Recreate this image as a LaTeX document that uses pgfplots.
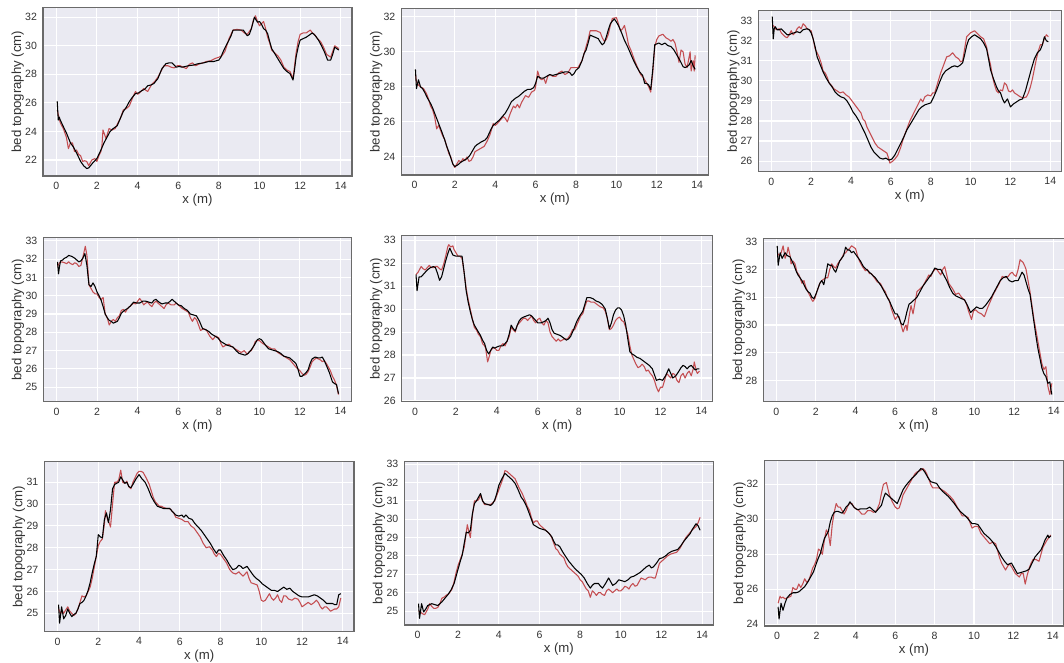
\documentclass[border=0pt]{standalone}
\usepackage{pgfplots}
\pgfplotsset{compat=1.18}
\usepackage{fontspec}
\setmainfont{Liberation Sans}
\definecolor{bgc}{HTML}{EAEAF2}
\definecolor{redc}{HTML}{C44E52}
\definecolor{framec}{HTML}{6A6A6A}
\definecolor{txtc}{HTML}{333333}
\pgfplotsset{
  sb/.style={
    scale only axis,
    axis background/.style={fill=bgc},
    grid=major,
    major grid style={draw=white, line width=0.8pt},
    axis line style={draw=framec, line width=1.1pt},
    major tick length=0pt,
    tick style={draw=none},
    xmin=-0.65, xmax=14.55,
    xtick={0,2,4,6,8,10,12,14},
    /pgf/number format/assume math mode=true,
    ticklabel style={font=\fontsize{7.9}{9}\selectfont, text=txtc},
    xticklabel style={yshift=-1pt},
    yticklabel style={xshift=-1pt},
    xlabel={x (m)},
    ylabel={bed topography (cm)},
    label style={font=\fontsize{9.9}{11}\selectfont, text=txtc},
    xlabel style={at={(axis description cs:0.5,0)}, anchor=north, inner sep=0pt, yshift=-13.5pt},
    ylabel style={at={(axis description cs:-0.082,0.5)}, anchor=center},
    anchor=south west,
  },
  rl/.style={draw=redc, line width=0.8pt, line join=round, mark=none},
  bl/.style={draw=black, line width=0.8pt, line join=round, mark=none},
}
\begin{document}
\begin{tikzpicture}
% ---------- Row 1 ----------
\begin{axis}[sb, at={(43*0.75pt,486*0.75pt)}, width=309*0.75pt, height=168.5*0.75pt,
  ymin=20.88, ymax=32.68, ytick={22,24,26,28,30,32}]
\addplot[rl] coordinates {(0.05,25.5)(0.2,24.6)(0.35,24.2)(0.5,23.6)(0.6,22.8)(0.7,23.2)(0.8,23.2)(0.9,22.6)(1.0,22.7)(1.1,22.4)(1.2,22.3)(1.3,21.9)(1.4,21.95)(1.5,21.9)(1.6,21.6)(1.75,22.0)(1.9,22.1)(2.0,21.9)(2.1,22.3)(2.2,22.6)(2.25,23.0)(2.3,24.1)(2.45,23.5)(2.6,24.2)(2.75,24.1)(2.9,24.2)(3.0,24.5)(3.15,24.9)(3.3,25.5)(3.45,25.6)(3.6,25.8)(3.8,26.5)(3.9,26.8)(4.0,26.6)(4.1,26.7)(4.3,27.0)(4.5,26.8)(4.7,27.3)(4.85,27.5)(5.0,27.8)(5.15,28.2)(5.3,28.6)(5.5,28.6)(5.65,28.5)(5.8,28.45)(5.95,28.6)(6.1,28.6)(6.25,28.5)(6.4,28.4)(6.55,28.7)(6.7,28.8)(6.85,28.6)(7.0,28.7)(7.2,28.8)(7.4,28.9)(7.6,28.95)(7.8,29.1)(8.0,29.2)(8.15,29.3)(8.3,29.6)(8.5,30.5)(8.7,31.1)(8.9,31.15)(9.1,31.1)(9.25,30.9)(9.4,30.8)(9.6,31.2)(9.7,31.8)(9.8,32.1)(9.9,31.7)(10.0,31.4)(10.2,31.7)(10.3,31.2)(10.4,30.6)(10.5,30.2)(10.6,29.7)(10.75,29.5)(10.9,29.3)(11.05,29.0)(11.2,28.5)(11.35,28.3)(11.5,28.2)(11.65,27.7)(11.8,29.5)(11.9,30.3)(12.0,30.8)(12.15,30.9)(12.3,30.9)(12.4,31.0)(12.5,31.1)(12.6,30.9)(12.7,30.8)(12.85,30.5)(13.0,30.3)(13.15,29.9)(13.3,29.4)(13.4,29.3)(13.5,29.2)(13.6,29.6)(13.7,30.0)(13.8,29.9)(13.9,29.8)};
\addplot[bl] coordinates {(0.05,26.1)(0.1,24.8)(0.15,25.0)(0.2,24.8)(0.33,24.4)(0.5,23.9)(0.7,23.2)(0.85,22.9)(1.0,22.5)(1.2,21.9)(1.35,21.6)(1.5,21.4)(1.6,21.45)(1.8,21.8)(2.0,22.1)(2.2,22.7)(2.35,23.2)(2.5,23.6)(2.65,24.0)(2.8,24.2)(3.0,24.4)(3.15,24.9)(3.3,25.4)(3.45,25.7)(3.6,26.1)(3.75,26.4)(3.9,26.65)(4.05,26.7)(4.2,26.85)(4.35,26.95)(4.5,27.2)(4.65,27.25)(4.8,27.35)(5.0,27.7)(5.2,28.4)(5.4,28.75)(5.55,28.8)(5.7,28.8)(5.9,28.5)(6.05,28.55)(6.2,28.5)(6.35,28.55)(6.5,28.6)(6.75,28.65)(7.0,28.75)(7.25,28.8)(7.5,28.9)(7.75,28.9)(8.0,29.0)(8.1,29.2)(8.2,29.55)(8.35,30.0)(8.5,30.4)(8.6,30.7)(8.7,31.1)(9.0,31.1)(9.2,31.1)(9.3,30.9)(9.4,30.7)(9.5,30.8)(9.6,31.2)(9.75,32.0)(9.9,31.65)(10.0,31.7)(10.1,31.5)(10.2,31.2)(10.3,31.1)(10.4,30.85)(10.5,30.3)(10.6,29.8)(10.75,29.45)(10.9,29.1)(11.05,28.75)(11.2,28.4)(11.35,28.2)(11.5,28.05)(11.65,27.6)(11.72,28.3)(11.8,29.2)(11.9,29.9)(12.0,30.4)(12.15,30.5)(12.3,30.6)(12.45,30.75)(12.6,30.9)(12.75,30.7)(12.9,30.4)(13.05,30.0)(13.2,29.55)(13.35,29.0)(13.5,29.0)(13.6,29.4)(13.7,29.9)(13.8,29.8)(13.9,29.7)};
\end{axis}

\begin{axis}[sb, at={(401.3*0.75pt,487*0.75pt)}, width=307*0.75pt, height=166.7*0.75pt,
  ymin=22.97, ymax=32.48, ytick={24,26,28,30,32}]
\addplot[rl] coordinates {(0.05,28.7)(0.1,28.3)(0.2,28.1)(0.3,28.0)(0.45,27.9)(0.6,27.6)(0.7,27.3)(0.8,26.9)(0.9,26.7)(1.0,26.3)(1.1,25.6)(1.2,25.8)(1.3,25.5)(1.4,25.2)(1.5,25.0)(1.6,24.6)(1.7,24.2)(1.8,24.0)(1.9,23.6)(2.0,23.4)(2.1,23.6)(2.2,23.8)(2.3,23.7)(2.4,23.9)(2.5,23.8)(2.6,24.0)(2.7,23.75)(2.8,23.8)(2.9,24.0)(3.0,24.3)(3.15,24.4)(3.3,24.5)(3.45,24.6)(3.6,24.9)(3.75,25.3)(3.9,25.9)(4.0,25.8)(4.1,25.9)(4.25,26.1)(4.4,26.3)(4.5,26.2)(4.6,26.0)(4.75,26.5)(4.9,26.9)(5.0,26.8)(5.1,27.0)(5.2,26.8)(5.3,27.1)(5.4,27.3)(5.5,27.5)(5.65,27.4)(5.8,27.7)(5.95,27.8)(6.0,28.0)(6.1,28.9)(6.2,28.5)(6.3,28.4)(6.4,28.5)(6.5,28.2)(6.6,28.6)(6.7,28.7)(6.85,28.6)(7.0,28.6)(7.15,28.8)(7.3,28.9)(7.45,28.7)(7.6,28.8)(7.75,29.1)(7.9,29.1)(8.1,29.1)(8.2,29.3)(8.3,29.5)(8.4,29.9)(8.5,30.3)(8.6,30.7)(8.7,31.2)(8.85,31.2)(9.0,31.2)(9.2,31.1)(9.3,30.8)(9.4,30.6)(9.5,30.7)(9.6,31.0)(9.7,31.5)(9.8,31.9)(10.0,31.95)(10.1,31.6)(10.2,31.2)(10.3,31.3)(10.4,31.5)(10.5,31.0)(10.6,30.4)(10.75,30.0)(10.9,29.5)(11.05,29.1)(11.2,28.7)(11.35,28.5)(11.5,28.2)(11.6,28.0)(11.7,27.7)(11.8,28.8)(11.9,30.3)(12.0,30.7)(12.1,30.9)(12.3,31.0)(12.45,30.8)(12.6,30.7)(12.7,30.6)(12.8,30.7)(12.9,30.5)(13.0,30.0)(13.1,29.4)(13.2,30.1)(13.3,30.0)(13.4,29.3)(13.5,29.1)(13.6,29.7)(13.65,30.0)(13.7,28.9)(13.8,29.5)(13.85,28.9)(13.9,29.8)};
\addplot[bl] coordinates {(0.05,29.0)(0.1,27.9)(0.2,28.4)(0.3,28.0)(0.4,27.9)(0.5,27.7)(0.65,27.35)(0.8,27.05)(0.9,26.8)(1.0,26.5)(1.1,26.2)(1.2,25.9)(1.35,25.45)(1.5,24.97)(1.6,24.6)(1.7,24.3)(1.8,23.95)(1.9,23.6)(2.0,23.45)(2.15,23.55)(2.3,23.7)(2.45,23.8)(2.6,23.9)(2.75,24.1)(2.9,24.4)(3.0,24.6)(3.1,24.7)(3.3,24.85)(3.5,24.97)(3.6,25.1)(3.7,25.35)(3.8,25.6)(3.9,25.8)(4.05,25.95)(4.2,26.1)(4.35,26.3)(4.5,26.5)(4.65,26.8)(4.8,27.15)(5.0,27.35)(5.15,27.45)(5.3,27.6)(5.45,27.75)(5.6,27.85)(5.75,27.85)(5.9,27.95)(6.0,28.2)(6.1,28.6)(6.25,28.5)(6.4,28.5)(6.55,28.6)(6.7,28.7)(6.85,28.65)(7.0,28.7)(7.15,28.75)(7.3,28.8)(7.45,28.85)(7.6,28.85)(7.7,28.8)(7.8,28.65)(7.9,28.75)(8.0,28.95)(8.15,29.1)(8.3,29.5)(8.4,29.9)(8.5,30.1)(8.6,30.5)(8.7,30.95)(8.8,30.9)(8.9,30.85)(9.0,30.8)(9.1,30.75)(9.2,30.55)(9.3,30.4)(9.4,30.5)(9.5,30.85)(9.6,31.25)(9.7,31.6)(9.8,31.75)(9.9,31.87)(10.0,31.7)(10.1,31.5)(10.25,31.1)(10.4,30.65)(10.55,30.3)(10.7,29.9)(10.85,29.5)(11.0,29.15)(11.15,28.85)(11.3,28.65)(11.4,28.2)(11.5,28.2)(11.6,28.1)(11.7,27.85)(11.8,29.0)(11.9,30.4)(12.0,30.45)(12.1,30.5)(12.25,30.4)(12.4,30.5)(12.55,30.35)(12.7,30.3)(12.85,30.1)(13.0,29.8)(13.15,29.5)(13.3,29.15)(13.4,29.1)(13.5,29.15)(13.6,29.25)(13.7,29.5)(13.8,29.2)(13.9,29.0)};
\end{axis}

\begin{axis}[sb, at={(758.3*0.75pt,490.3*0.75pt)}, width=303*0.75pt, height=161*0.75pt,
  ymin=25.47, ymax=33.5, ytick={26,27,28,29,30,31,32,33}]
\addplot[rl] coordinates {(0.05,32.8)(0.15,32.7)(0.25,32.55)(0.4,32.6)(0.5,32.4)(0.6,32.3)(0.7,32.2)(0.8,32.15)(0.9,32.3)(1.0,32.5)(1.1,32.3)(1.2,32.4)(1.3,32.6)(1.4,32.7)(1.5,32.6)(1.6,32.85)(1.7,32.75)(1.8,32.6)(1.9,32.55)(2.0,32.5)(2.1,32.1)(2.2,31.6)(2.3,31.4)(2.4,31.2)(2.5,30.9)(2.6,30.5)(2.7,30.4)(2.8,30.2)(2.9,29.9)(3.0,29.8)(3.15,29.6)(3.3,29.5)(3.45,29.4)(3.6,29.45)(3.75,29.3)(3.9,29.2)(4.05,29.0)(4.2,28.8)(4.35,28.6)(4.5,28.4)(4.6,28.1)(4.7,28.0)(4.8,27.7)(4.9,27.5)(5.05,27.2)(5.2,26.9)(5.35,26.7)(5.5,26.6)(5.65,26.5)(5.8,26.4)(5.9,26.1)(5.95,25.9)(6.1,26.0)(6.2,26.1)(6.35,26.3)(6.5,26.7)(6.65,27.2)(6.8,27.6)(6.95,28.0)(7.1,28.3)(7.25,28.6)(7.4,28.9)(7.5,29.1)(7.6,28.95)(7.7,29.2)(7.85,29.3)(8.0,29.25)(8.1,29.4)(8.2,29.4)(8.35,29.9)(8.5,30.4)(8.65,30.8)(8.8,31.2)(8.95,31.25)(9.1,31.4)(9.25,31.2)(9.4,31.1)(9.5,30.95)(9.6,31.0)(9.7,31.6)(9.8,32.2)(9.9,32.3)(10.0,32.4)(10.2,32.5)(10.35,32.35)(10.5,32.2)(10.65,32.1)(10.8,31.7)(10.9,31.2)(11.0,30.8)(11.1,30.2)(11.2,29.8)(11.3,29.5)(11.4,29.4)(11.5,29.55)(11.6,29.5)(11.7,29.9)(11.8,29.8)(11.9,29.5)(12.0,29.45)(12.1,29.55)(12.2,29.4)(12.35,29.3)(12.5,29.2)(12.65,29.15)(12.8,29.2)(12.9,29.4)(13.0,29.7)(13.1,30.1)(13.2,30.6)(13.3,31.1)(13.4,31.5)(13.5,31.8)(13.6,31.8)(13.7,32.1)(13.8,32.3)(13.9,32.2)};
\addplot[bl] coordinates {(0.05,33.2)(0.1,32.1)(0.15,32.6)(0.2,32.7)(0.3,32.55)(0.4,32.55)(0.5,32.6)(0.6,32.5)(0.7,32.4)(0.8,32.3)(0.9,32.3)(1.0,32.35)(1.15,32.4)(1.3,32.45)(1.45,32.4)(1.6,32.55)(1.8,32.6)(1.9,32.55)(2.0,32.4)(2.1,32.1)(2.2,31.7)(2.3,31.2)(2.4,30.95)(2.5,30.7)(2.6,30.45)(2.75,30.15)(2.9,29.9)(3.05,29.7)(3.2,29.45)(3.35,29.3)(3.5,29.2)(3.65,29.15)(3.8,29.0)(3.95,28.75)(4.1,28.45)(4.25,28.25)(4.4,28.0)(4.55,27.7)(4.7,27.4)(4.85,27.05)(5.0,26.7)(5.15,26.45)(5.3,26.3)(5.45,26.15)(5.6,26.1)(5.75,26.15)(5.9,26.05)(6.05,26.1)(6.2,26.3)(6.35,26.6)(6.5,26.9)(6.65,27.2)(6.8,27.55)(6.95,27.8)(7.1,28.05)(7.25,28.3)(7.4,28.55)(7.55,28.7)(7.7,28.8)(7.85,28.85)(8.0,28.9)(8.15,29.2)(8.3,29.55)(8.45,29.95)(8.6,30.3)(8.75,30.5)(8.9,30.6)(9.05,30.7)(9.2,30.75)(9.35,30.7)(9.5,30.8)(9.6,30.9)(9.7,31.3)(9.8,31.75)(9.9,32.05)(10.05,32.2)(10.2,32.3)(10.35,32.2)(10.5,32.1)(10.65,31.9)(10.8,31.6)(10.9,31.1)(11.0,30.55)(11.15,30.1)(11.3,29.7)(11.4,29.5)(11.5,29.4)(11.6,29.1)(11.7,28.9)(11.85,29.1)(12.0,28.7)(12.15,28.85)(12.3,28.95)(12.45,29.05)(12.6,29.1)(12.75,29.5)(12.9,30.05)(13.05,30.6)(13.2,31.1)(13.35,31.4)(13.5,31.55)(13.6,31.8)(13.7,32.2)(13.8,32.0)(13.9,31.95)};
\end{axis}

% ---------- Row 2 ----------
\begin{axis}[sb, at={(43.3*0.75pt,260.3*0.75pt)}, width=308.4*0.75pt, height=164.4*0.75pt,
  ymin=24.21, ymax=33.19, ytick={25,26,27,28,29,30,31,32,33}]
\addplot[rl] coordinates {(0.05,31.6)(0.15,31.8)(0.25,31.85)(0.4,31.8)(0.5,31.75)(0.6,31.85)(0.7,31.75)(0.8,31.7)(0.9,31.8)(1.0,31.75)(1.1,31.6)(1.2,31.65)(1.3,32.1)(1.42,32.7)(1.5,32.2)(1.55,31.4)(1.6,30.6)(1.7,30.4)(1.8,30.2)(1.9,30.1)(2.0,30.1)(2.1,29.9)(2.2,29.8)(2.3,29.9)(2.4,29.0)(2.5,28.8)(2.6,28.4)(2.7,28.6)(2.8,28.7)(2.9,28.6)(3.0,28.8)(3.1,28.9)(3.2,29.2)(3.3,29.25)(3.4,29.1)(3.5,29.3)(3.6,29.4)(3.7,29.5)(3.8,29.6)(3.9,29.55)(4.0,29.7)(4.1,29.85)(4.2,29.7)(4.3,29.5)(4.4,29.6)(4.5,29.65)(4.6,29.5)(4.7,29.4)(4.8,29.6)(4.9,29.7)(5.0,29.6)(5.1,29.5)(5.2,29.4)(5.3,29.3)(5.4,29.5)(5.5,29.6)(5.65,29.5)(5.8,29.5)(5.9,29.6)(6.0,29.5)(6.1,29.4)(6.2,29.3)(6.35,29.2)(6.5,29.1)(6.6,28.8)(6.7,28.6)(6.8,28.8)(6.9,28.7)(7.0,28.4)(7.1,28.1)(7.25,28.2)(7.4,28.1)(7.55,27.8)(7.7,27.6)(7.85,27.8)(8.0,27.7)(8.1,27.4)(8.2,27.2)(8.35,27.3)(8.5,27.35)(8.65,27.2)(8.8,27.1)(8.95,27.0)(9.1,26.9)(9.25,27.0)(9.4,26.8)(9.5,26.95)(9.6,27.0)(9.7,27.2)(9.8,27.5)(9.9,27.55)(10.0,27.55)(10.15,27.4)(10.3,27.3)(10.45,27.2)(10.6,27.1)(10.75,27.1)(10.9,26.9)(11.05,26.8)(11.2,26.7)(11.35,26.6)(11.5,26.5)(11.65,26.3)(11.8,26.1)(11.9,26.0)(12.0,25.9)(12.1,25.75)(12.2,25.65)(12.3,25.7)(12.4,25.85)(12.5,26.1)(12.6,26.4)(12.7,26.5)(12.8,26.6)(12.9,26.55)(13.0,26.5)(13.1,26.4)(13.2,26.45)(13.3,26.3)(13.4,26.1)(13.5,25.9)(13.6,25.6)(13.7,25.4)(13.8,25.1)(13.9,24.6)};
\addplot[bl] coordinates {(0.05,31.85)(0.1,31.2)(0.15,31.6)(0.2,31.9)(0.3,31.95)(0.4,32.05)(0.5,32.1)(0.6,32.2)(0.75,32.15)(0.9,32.05)(1.0,31.95)(1.1,31.85)(1.2,31.9)(1.3,32.05)(1.4,32.3)(1.5,31.65)(1.6,30.6)(1.7,30.5)(1.8,30.7)(1.9,30.5)(2.0,30.2)(2.1,30.0)(2.2,29.75)(2.3,29.4)(2.4,29.0)(2.5,28.8)(2.6,28.65)(2.7,28.6)(2.8,28.5)(2.9,28.55)(3.0,28.6)(3.1,28.8)(3.2,29.05)(3.35,29.2)(3.5,29.3)(3.65,29.45)(3.8,29.65)(3.95,29.6)(4.1,29.6)(4.25,29.7)(4.4,29.7)(4.55,29.65)(4.7,29.6)(4.8,29.75)(4.9,29.8)(5.05,29.65)(5.2,29.55)(5.35,29.6)(5.5,29.6)(5.6,29.7)(5.7,29.8)(5.85,29.65)(6.0,29.5)(6.15,29.45)(6.3,29.3)(6.45,29.2)(6.6,29.0)(6.75,28.95)(6.9,28.9)(7.05,28.6)(7.2,28.2)(7.35,28.15)(7.5,28.05)(7.65,27.9)(7.8,27.8)(7.95,27.7)(8.1,27.5)(8.25,27.4)(8.4,27.3)(8.55,27.25)(8.7,27.2)(8.85,27.0)(9.0,26.85)(9.15,26.8)(9.3,26.75)(9.45,26.85)(9.6,27.05)(9.75,27.3)(9.9,27.6)(10.0,27.65)(10.1,27.6)(10.2,27.45)(10.3,27.3)(10.45,27.1)(10.6,27.05)(10.75,27.0)(10.9,26.95)(11.05,26.85)(11.2,26.7)(11.35,26.65)(11.5,26.6)(11.65,26.45)(11.8,26.3)(11.9,26.0)(12.0,25.6)(12.1,25.6)(12.2,25.7)(12.3,25.8)(12.4,25.95)(12.5,26.3)(12.6,26.55)(12.75,26.65)(12.9,26.6)(13.0,26.6)(13.1,26.65)(13.2,26.45)(13.3,26.2)(13.45,25.8)(13.6,25.3)(13.7,25.2)(13.8,25.15)(13.85,24.9)(13.9,24.65)};
\end{axis}

\begin{axis}[sb, at={(401.7*0.75pt,260.3*0.75pt)}, width=311*0.75pt, height=166*0.75pt,
  ymin=25.97, ymax=33.19, ytick={26,27,28,29,30,31,32,33}]
\addplot[rl] coordinates {(0.05,31.5)(0.15,31.6)(0.3,31.85)(0.4,31.75)(0.5,31.7)(0.6,31.8)(0.7,31.9)(0.8,31.8)(0.9,31.8)(1.0,31.85)(1.1,31.85)(1.2,31.75)(1.3,31.7)(1.4,31.95)(1.5,32.3)(1.6,32.7)(1.65,32.8)(1.75,32.7)(1.85,32.75)(1.9,32.6)(2.0,32.45)(2.1,32.3)(2.2,32.3)(2.3,32.2)(2.4,31.6)(2.5,30.9)(2.6,30.4)(2.7,30.0)(2.8,29.6)(2.9,29.2)(3.0,29.1)(3.1,28.9)(3.2,28.8)(3.3,28.5)(3.4,28.4)(3.45,28.3)(3.55,27.7)(3.65,28.0)(3.7,28.2)(3.8,28.3)(3.9,28.3)(4.0,28.2)(4.1,28.2)(4.2,28.4)(4.3,28.5)(4.4,28.4)(4.5,28.6)(4.6,28.8)(4.7,29.2)(4.8,29.1)(4.9,29.0)(5.0,29.3)(5.1,29.4)(5.2,29.5)(5.3,29.6)(5.4,29.6)(5.5,29.5)(5.6,29.6)(5.7,29.7)(5.8,29.5)(5.9,29.4)(6.0,29.55)(6.1,29.6)(6.2,29.4)(6.3,29.3)(6.4,29.5)(6.5,29.4)(6.6,29.0)(6.7,28.8)(6.8,28.7)(6.9,28.6)(7.0,28.7)(7.1,28.6)(7.2,28.65)(7.3,28.7)(7.45,28.7)(7.6,28.9)(7.7,29.1)(7.8,29.1)(7.9,29.3)(8.0,29.5)(8.1,29.7)(8.2,29.8)(8.3,30.1)(8.4,30.35)(8.5,30.35)(8.6,30.3)(8.75,30.3)(8.9,30.2)(9.05,30.1)(9.2,30.05)(9.3,29.9)(9.4,29.6)(9.5,29.1)(9.6,29.15)(9.7,29.3)(9.8,29.5)(9.9,29.6)(10.0,29.65)(10.1,29.5)(10.2,29.45)(10.3,29.2)(10.4,28.9)(10.5,28.4)(10.6,28.0)(10.7,27.8)(10.8,27.6)(10.9,27.45)(11.0,27.5)(11.1,27.6)(11.2,27.5)(11.3,27.3)(11.4,27.35)(11.5,27.2)(11.6,27.1)(11.7,26.9)(11.8,26.6)(11.9,26.4)(12.0,26.6)(12.1,26.6)(12.2,26.9)(12.3,27.2)(12.4,27.1)(12.5,27.0)(12.6,27.2)(12.7,27.15)(12.8,26.9)(12.9,26.8)(13.0,27.1)(13.1,27.2)(13.2,27.0)(13.3,27.2)(13.4,27.3)(13.5,27.1)(13.6,27.4)(13.65,27.7)(13.75,27.3)(13.8,27.2)(13.9,27.3)};
\addplot[bl] coordinates {(0.05,31.5)(0.1,30.8)(0.2,31.4)(0.3,31.4)(0.4,31.5)(0.5,31.6)(0.6,31.7)(0.75,31.8)(0.9,31.85)(1.0,31.8)(1.1,31.55)(1.2,31.25)(1.3,31.4)(1.4,31.75)(1.5,32.1)(1.6,32.4)(1.7,32.65)(1.85,32.35)(2.0,32.3)(2.15,32.3)(2.3,32.3)(2.4,31.6)(2.5,30.8)(2.6,30.3)(2.7,29.9)(2.8,29.55)(2.9,29.3)(3.0,29.15)(3.1,29.0)(3.2,28.85)(3.3,28.65)(3.4,28.5)(3.5,28.2)(3.6,28.05)(3.7,28.2)(3.8,28.35)(3.9,28.3)(4.0,28.35)(4.15,28.4)(4.3,28.4)(4.4,28.5)(4.5,28.6)(4.6,28.9)(4.7,29.3)(4.8,29.15)(4.9,29.05)(5.0,29.3)(5.1,29.5)(5.2,29.6)(5.3,29.65)(5.45,29.7)(5.6,29.75)(5.7,29.7)(5.8,29.6)(5.9,29.5)(6.0,29.4)(6.15,29.4)(6.3,29.45)(6.4,29.5)(6.5,29.6)(6.6,29.4)(6.7,29.1)(6.8,28.95)(6.95,28.9)(7.1,28.85)(7.25,28.75)(7.4,28.65)(7.5,28.7)(7.6,28.8)(7.75,29.1)(7.9,29.45)(8.05,29.7)(8.2,29.9)(8.3,30.2)(8.4,30.5)(8.55,30.5)(8.7,30.45)(8.85,30.35)(9.0,30.3)(9.15,30.2)(9.3,30.0)(9.4,29.6)(9.5,29.15)(9.6,29.4)(9.7,29.75)(9.8,29.95)(9.9,30.05)(10.0,30.05)(10.1,29.95)(10.2,29.7)(10.3,29.3)(10.4,28.7)(10.5,28.15)(10.6,28.05)(10.7,28.0)(10.85,27.9)(11.0,27.85)(11.15,27.75)(11.3,27.65)(11.45,27.55)(11.6,27.4)(11.7,27.15)(11.8,26.9)(11.95,26.95)(12.1,26.9)(12.25,27.1)(12.4,27.4)(12.5,27.2)(12.6,27.0)(12.75,27.1)(12.9,27.3)(13.0,27.45)(13.1,27.55)(13.2,27.5)(13.3,27.4)(13.4,27.5)(13.5,27.55)(13.6,27.45)(13.7,27.35)(13.8,27.4)(13.9,27.4)};
\end{axis}

\begin{axis}[sb, at={(763.3*0.75pt,260.3*0.75pt)}, width=301.4*0.75pt, height=163.4*0.75pt,
  ymin=27.24, ymax=33.12, ytick={28,29,30,31,32,33}]
\addplot[rl] coordinates {(0.05,32.6)(0.15,32.5)(0.25,32.6)(0.35,32.85)(0.45,32.4)(0.55,32.6)(0.6,32.8)(0.7,32.5)(0.75,32.2)(0.85,32.3)(0.95,32.2)(1.05,31.9)(1.15,31.8)(1.3,31.5)(1.4,31.6)(1.5,31.35)(1.6,31.2)(1.7,31.05)(1.8,30.9)(1.85,30.85)(1.95,30.95)(2.05,31.2)(2.2,31.5)(2.3,31.6)(2.4,31.65)(2.5,31.7)(2.6,31.7)(2.7,32.0)(2.8,32.2)(2.9,32.1)(3.0,32.05)(3.1,32.2)(3.2,32.3)(3.3,32.4)(3.4,32.55)(3.5,32.6)(3.6,32.7)(3.7,32.75)(3.8,32.85)(3.9,32.8)(4.0,32.75)(4.1,32.5)(4.2,32.3)(4.35,32.1)(4.5,31.95)(4.6,32.0)(4.7,31.85)(4.8,31.85)(4.95,31.7)(5.1,31.55)(5.25,31.5)(5.4,31.3)(5.5,31.2)(5.6,31.0)(5.7,30.9)(5.8,30.6)(5.9,30.4)(6.0,30.2)(6.1,30.3)(6.2,30.3)(6.3,30.0)(6.4,29.75)(6.5,29.95)(6.55,30.0)(6.6,29.8)(6.7,30.3)(6.8,30.7)(6.9,30.4)(7.0,30.8)(7.1,31.2)(7.25,31.3)(7.4,31.4)(7.55,31.6)(7.7,31.8)(7.8,31.75)(7.9,31.9)(8.0,32.0)(8.1,32.0)(8.2,31.9)(8.3,31.8)(8.4,32.0)(8.5,32.1)(8.6,31.8)(8.7,31.5)(8.8,31.4)(8.9,31.3)(9.05,31.1)(9.2,31.15)(9.35,31.0)(9.5,30.9)(9.6,30.75)(9.7,30.5)(9.8,30.3)(9.85,30.2)(9.95,30.5)(10.05,30.55)(10.2,30.45)(10.35,30.4)(10.5,30.3)(10.65,30.6)(10.8,30.85)(10.95,31.1)(11.1,31.3)(11.25,31.5)(11.4,31.75)(11.55,31.7)(11.7,31.75)(11.8,31.85)(11.9,31.9)(12.0,31.8)(12.1,31.75)(12.2,32.0)(12.3,32.35)(12.45,32.25)(12.55,32.1)(12.6,32.0)(12.7,31.6)(12.8,31.2)(12.9,30.7)(13.0,30.2)(13.1,29.8)(13.2,29.4)(13.3,29.0)(13.4,28.6)(13.5,28.4)(13.55,28.45)(13.6,28.5)(13.65,28.2)(13.7,27.8)(13.8,27.5)(13.85,27.7)(13.9,27.9)};
\addplot[bl] coordinates {(0.05,32.85)(0.1,32.15)(0.2,32.6)(0.3,32.4)(0.45,32.6)(0.55,32.5)(0.7,32.45)(0.8,32.3)(0.9,32.15)(1.0,31.95)(1.1,31.8)(1.2,31.7)(1.3,31.6)(1.4,31.45)(1.5,31.3)(1.6,31.2)(1.7,31.15)(1.8,31.0)(1.9,30.95)(2.0,31.1)(2.1,31.3)(2.2,31.5)(2.3,31.6)(2.4,31.45)(2.5,31.8)(2.6,32.2)(2.7,32.15)(2.8,32.15)(2.9,32.0)(3.0,31.9)(3.1,32.1)(3.2,32.3)(3.3,32.4)(3.4,32.5)(3.5,32.8)(3.6,32.7)(3.7,32.7)(3.8,32.6)(3.9,32.65)(4.0,32.55)(4.1,32.45)(4.25,32.3)(4.4,32.1)(4.55,32.0)(4.7,31.9)(4.85,31.8)(5.0,31.7)(5.15,31.55)(5.3,31.4)(5.45,31.2)(5.6,31.0)(5.75,30.8)(5.9,30.55)(6.0,30.4)(6.1,30.4)(6.2,30.25)(6.3,30.05)(6.4,30.0)(6.5,30.2)(6.6,30.5)(6.7,30.75)(6.8,30.8)(6.95,30.9)(7.1,31.0)(7.25,31.2)(7.4,31.4)(7.55,31.55)(7.7,31.7)(7.85,31.85)(8.0,32.05)(8.15,32.0)(8.3,32.0)(8.45,31.8)(8.6,31.6)(8.75,31.35)(8.9,31.15)(9.05,31.05)(9.2,31.0)(9.35,30.95)(9.5,30.9)(9.65,30.7)(9.8,30.45)(9.95,30.55)(10.1,30.65)(10.25,30.6)(10.4,30.6)(10.55,30.7)(10.7,30.85)(10.85,31.0)(11.0,31.2)(11.15,31.4)(11.3,31.6)(11.45,31.7)(11.6,31.75)(11.75,31.6)(11.9,31.55)(12.05,31.6)(12.2,31.6)(12.3,31.75)(12.4,31.9)(12.5,31.8)(12.6,31.55)(12.7,31.3)(12.8,31.1)(12.9,30.6)(13.0,30.1)(13.1,29.6)(13.2,29.15)(13.3,28.8)(13.4,28.45)(13.5,28.25)(13.6,28.15)(13.7,27.9)(13.8,27.95)(13.85,27.7)(13.9,27.5)};
\end{axis}

% ---------- Row 3 ----------
\begin{axis}[sb, at={(44.3*0.75pt,30.3*0.75pt)}, width=309.7*0.75pt, height=170*0.75pt,
  ymin=24.16, ymax=31.94, ytick={25,26,27,28,29,30,31}]
\addplot[rl] coordinates {(0.05,25.2)(0.1,25.1)(0.15,25.0)(0.25,25.1)(0.3,25.0)(0.4,25.15)(0.5,25.3)(0.55,25.2)(0.6,25.1)(0.7,25.0)(0.8,24.9)(0.9,25.0)(1.0,25.2)(1.1,25.5)(1.2,25.8)(1.3,25.75)(1.4,25.8)(1.5,26.0)(1.6,26.2)(1.7,26.6)(1.8,27.1)(1.9,27.6)(2.0,28.1)(2.1,28.3)(2.2,28.4)(2.3,29.1)(2.35,29.7)(2.45,29.3)(2.55,29.1)(2.6,28.95)(2.7,30.0)(2.8,31.0)(2.9,31.0)(3.0,31.1)(3.1,31.55)(3.2,31.0)(3.3,30.95)(3.4,31.05)(3.5,30.8)(3.6,30.7)(3.7,31.0)(3.8,31.2)(3.9,31.4)(4.0,31.5)(4.1,31.5)(4.2,31.45)(4.35,31.2)(4.5,30.9)(4.6,30.6)(4.7,30.3)(4.8,30.1)(4.9,30.0)(5.0,29.9)(5.1,29.9)(5.2,29.85)(5.35,29.8)(5.5,29.8)(5.6,29.7)(5.7,29.6)(5.8,29.4)(5.95,29.35)(6.1,29.3)(6.25,29.2)(6.4,29.2)(6.55,29.0)(6.7,28.9)(6.85,28.7)(7.0,28.5)(7.15,28.2)(7.3,28.0)(7.45,28.05)(7.6,27.9)(7.7,27.7)(7.8,27.6)(7.9,27.75)(8.0,27.7)(8.15,27.5)(8.3,27.3)(8.45,27.0)(8.6,26.85)(8.75,26.8)(8.9,26.9)(9.0,26.8)(9.1,26.7)(9.2,26.8)(9.3,26.9)(9.4,26.6)(9.5,26.4)(9.65,26.35)(9.8,26.3)(9.9,26.0)(10.0,25.6)(10.1,25.55)(10.2,25.6)(10.3,25.75)(10.4,25.9)(10.5,25.7)(10.6,25.6)(10.7,25.7)(10.8,25.85)(10.9,25.6)(11.0,25.5)(11.1,25.8)(11.2,25.8)(11.35,25.65)(11.5,25.6)(11.65,25.7)(11.8,25.65)(11.9,25.5)(12.0,25.3)(12.15,25.4)(12.3,25.5)(12.45,25.4)(12.6,25.5)(12.7,25.6)(12.8,25.5)(12.9,25.3)(13.0,25.2)(13.1,25.3)(13.2,25.3)(13.3,25.2)(13.4,25.1)(13.5,25.15)(13.6,25.2)(13.7,25.2)(13.8,25.3)(13.9,25.7)};
\addplot[bl] coordinates {(0.05,25.4)(0.1,24.55)(0.2,25.3)(0.3,24.75)(0.4,24.9)(0.5,25.2)(0.6,25.0)(0.7,24.85)(0.8,24.95)(0.9,25.0)(1.0,25.2)(1.1,25.45)(1.2,25.5)(1.3,25.6)(1.4,25.8)(1.5,26.05)(1.6,26.4)(1.7,26.85)(1.8,27.25)(1.9,27.6)(2.0,28.6)(2.1,28.5)(2.2,28.45)(2.3,29.3)(2.4,29.6)(2.5,29.15)(2.6,29.75)(2.7,30.7)(2.8,30.9)(2.9,30.95)(3.0,31.0)(3.1,31.25)(3.2,31.1)(3.3,30.95)(3.4,31.0)(3.5,30.8)(3.6,30.75)(3.7,30.9)(3.85,31.15)(4.0,31.35)(4.15,31.15)(4.3,31.0)(4.45,30.7)(4.6,30.35)(4.75,30.1)(4.9,29.9)(5.05,29.85)(5.2,29.8)(5.35,29.8)(5.5,29.8)(5.65,29.65)(5.8,29.5)(5.95,29.45)(6.1,29.5)(6.2,29.4)(6.3,29.5)(6.45,29.35)(6.6,29.3)(6.75,29.1)(6.9,28.95)(7.05,28.8)(7.2,28.6)(7.35,28.4)(7.5,28.2)(7.65,27.95)(7.8,27.75)(7.9,27.9)(8.0,27.9)(8.15,27.65)(8.3,27.45)(8.45,27.2)(8.6,27.0)(8.75,27.05)(8.9,27.2)(9.0,27.15)(9.1,27.05)(9.2,27.1)(9.3,27.15)(9.45,26.95)(9.6,26.75)(9.75,26.6)(9.9,26.5)(10.05,26.35)(10.2,26.25)(10.35,26.15)(10.5,26.05)(10.65,26.05)(10.8,26.0)(10.95,26.1)(11.1,26.2)(11.25,26.1)(11.4,26.15)(11.55,26.0)(11.7,25.9)(11.85,25.8)(12.0,25.75)(12.15,25.75)(12.3,25.75)(12.45,25.8)(12.6,25.85)(12.75,25.8)(12.9,25.7)(13.05,25.6)(13.2,25.45)(13.35,25.45)(13.5,25.45)(13.6,25.4)(13.7,25.4)(13.8,25.85)(13.9,25.9)};
\end{axis}

\begin{axis}[sb, at={(404.3*0.75pt,37*0.75pt)}, width=309*0.75pt, height=163.3*0.75pt,
  ymin=24.24, ymax=33.13, ytick={25,26,27,28,29,30,31,32,33}]
\addplot[rl] coordinates {(0.05,25.0)(0.15,24.95)(0.25,24.85)(0.35,24.8)(0.45,25.0)(0.5,25.1)(0.6,25.4)(0.7,25.25)(0.8,25.15)(0.9,25.15)(1.0,25.2)(1.1,25.4)(1.2,25.7)(1.3,25.75)(1.4,25.85)(1.55,25.95)(1.7,26.2)(1.8,26.6)(1.9,27.1)(2.0,27.5)(2.1,27.8)(2.2,28.1)(2.3,28.5)(2.4,29.3)(2.45,29.7)(2.55,29.2)(2.6,29.0)(2.7,30.2)(2.8,31.0)(2.9,31.0)(3.0,31.05)(3.1,31.3)(3.2,31.0)(3.3,30.8)(3.45,30.8)(3.6,30.8)(3.7,30.9)(3.8,31.0)(3.9,31.3)(4.0,31.6)(4.1,31.9)(4.2,32.2)(4.3,32.65)(4.4,32.6)(4.5,32.5)(4.6,32.4)(4.7,32.3)(4.8,32.2)(4.9,31.95)(5.0,31.7)(5.15,31.4)(5.3,31.0)(5.4,30.7)(5.5,30.5)(5.6,30.1)(5.7,29.8)(5.8,29.9)(5.9,29.9)(6.0,29.7)(6.1,29.6)(6.25,29.45)(6.4,29.3)(6.5,29.2)(6.6,29.0)(6.7,28.7)(6.8,28.4)(6.9,28.3)(7.0,28.1)(7.1,28.0)(7.2,27.9)(7.3,27.6)(7.4,27.4)(7.5,27.3)(7.6,27.2)(7.75,27.05)(7.9,26.9)(8.0,26.7)(8.1,26.6)(8.2,26.4)(8.3,26.2)(8.4,26.1)(8.5,25.75)(8.6,26.1)(8.7,26.0)(8.8,25.85)(8.9,26.0)(9.0,26.0)(9.1,25.9)(9.2,25.85)(9.3,26.1)(9.4,26.2)(9.5,26.1)(9.6,26.0)(9.7,26.1)(9.8,26.2)(9.9,26.1)(10.0,26.1)(10.1,26.2)(10.2,26.35)(10.3,26.3)(10.4,26.2)(10.5,26.4)(10.6,26.5)(10.7,26.35)(10.8,26.4)(10.9,26.6)(11.0,26.8)(11.1,26.75)(11.2,26.7)(11.3,26.8)(11.4,26.85)(11.5,26.85)(11.6,26.8)(11.7,26.8)(11.8,27.2)(11.9,27.6)(12.0,27.7)(12.1,27.8)(12.2,27.9)(12.3,28.0)(12.45,28.1)(12.6,28.15)(12.75,28.2)(12.9,28.4)(13.05,28.7)(13.2,29.0)(13.35,29.2)(13.5,29.4)(13.6,29.5)(13.7,29.6)(13.8,29.8)(13.9,30.1)};
\addplot[bl] coordinates {(0.05,25.4)(0.1,24.6)(0.2,25.4)(0.3,24.95)(0.4,25.1)(0.5,25.3)(0.6,25.35)(0.7,25.4)(0.85,25.35)(1.0,25.3)(1.1,25.4)(1.2,25.5)(1.35,25.7)(1.5,25.9)(1.65,26.15)(1.8,26.5)(1.9,26.9)(2.0,27.3)(2.1,27.7)(2.2,28.05)(2.3,28.7)(2.4,29.3)(2.5,29.25)(2.6,29.4)(2.7,30.3)(2.8,30.85)(2.9,31.0)(3.0,31.2)(3.1,31.4)(3.2,31.0)(3.3,30.85)(3.45,30.8)(3.6,30.75)(3.7,30.85)(3.8,31.05)(3.9,31.4)(4.0,31.85)(4.15,32.2)(4.3,32.5)(4.4,32.4)(4.5,32.3)(4.65,32.15)(4.8,31.95)(4.95,31.6)(5.1,31.2)(5.2,31.05)(5.3,30.85)(5.4,30.6)(5.5,30.3)(5.6,30.0)(5.7,29.7)(5.85,29.6)(6.0,29.5)(6.15,29.45)(6.3,29.4)(6.45,29.25)(6.6,29.05)(6.7,28.8)(6.8,28.6)(6.9,28.6)(7.0,28.5)(7.15,28.2)(7.3,27.95)(7.45,27.7)(7.6,27.5)(7.75,27.3)(7.9,27.15)(8.05,27.0)(8.2,26.8)(8.35,26.5)(8.5,26.25)(8.6,26.4)(8.7,26.5)(8.8,26.5)(8.9,26.5)(9.0,26.35)(9.1,26.25)(9.25,26.5)(9.4,26.8)(9.5,26.6)(9.6,26.4)(9.75,26.5)(9.9,26.7)(10.05,26.65)(10.2,26.6)(10.35,26.7)(10.5,26.85)(10.65,26.9)(10.8,27.0)(10.95,27.1)(11.1,27.25)(11.25,27.4)(11.4,27.5)(11.5,27.35)(11.6,27.4)(11.75,27.6)(11.9,27.85)(12.05,27.9)(12.2,28.0)(12.35,28.15)(12.5,28.25)(12.65,28.3)(12.8,28.35)(12.95,28.55)(13.1,28.8)(13.25,29.0)(13.4,29.2)(13.55,29.5)(13.7,29.75)(13.8,29.65)(13.9,29.4)};
\end{axis}

\begin{axis}[sb, at={(764.3*0.75pt,36*0.75pt)}, width=299.3*0.75pt, height=165.3*0.75pt,
  ymin=23.9, ymax=33.35, ytick={24,26,28,30,32}]
\addplot[rl] coordinates {(0.05,25.2)(0.1,25.4)(0.15,25.6)(0.2,25.5)(0.3,25.55)(0.4,25.45)(0.5,25.5)(0.6,25.55)(0.7,25.6)(0.8,26.1)(0.9,26.0)(1.0,26.0)(1.1,26.3)(1.2,26.1)(1.3,26.3)(1.4,26.6)(1.5,26.4)(1.6,26.5)(1.7,26.8)(1.8,27.2)(1.9,27.4)(2.0,27.7)(2.1,28.3)(2.2,28.2)(2.3,28.0)(2.4,28.8)(2.5,29.4)(2.6,29.2)(2.7,28.5)(2.8,29.7)(2.9,30.4)(3.0,30.9)(3.1,30.7)(3.2,30.7)(3.3,30.5)(3.4,30.3)(3.5,30.5)(3.6,30.8)(3.7,30.9)(3.8,30.9)(3.9,30.7)(4.0,30.6)(4.15,30.5)(4.3,30.3)(4.45,30.3)(4.6,30.5)(4.75,30.5)(4.9,30.4)(5.05,30.5)(5.2,30.9)(5.3,31.5)(5.4,32.0)(5.55,32.1)(5.7,31.4)(5.85,31.0)(6.0,30.7)(6.1,30.6)(6.2,30.65)(6.3,31.0)(6.4,31.4)(6.55,31.7)(6.7,32.0)(6.85,32.3)(7.0,32.6)(7.1,32.7)(7.2,32.75)(7.3,32.8)(7.4,32.9)(7.5,32.8)(7.6,32.6)(7.7,32.3)(7.8,32.0)(7.9,31.8)(8.05,31.8)(8.2,31.8)(8.35,31.7)(8.5,31.6)(8.65,31.45)(8.8,31.3)(8.95,31.1)(9.1,30.8)(9.25,30.5)(9.4,30.2)(9.55,30.2)(9.7,30.1)(9.8,29.8)(9.9,29.5)(10.05,29.6)(10.2,29.6)(10.35,29.2)(10.5,29.0)(10.65,28.8)(10.8,28.6)(10.95,28.7)(11.1,28.6)(11.2,28.2)(11.3,27.8)(11.4,27.5)(11.5,27.3)(11.6,27.1)(11.7,27.3)(11.8,27.45)(11.9,27.3)(12.0,27.1)(12.1,26.9)(12.2,26.8)(12.3,26.7)(12.4,26.9)(12.5,26.9)(12.6,26.3)(12.7,26.8)(12.8,27.2)(12.9,27.5)(13.0,27.7)(13.15,27.7)(13.3,27.6)(13.4,28.0)(13.5,28.4)(13.6,28.6)(13.7,28.8)(13.8,28.95)(13.9,29.1)};
\addplot[bl] coordinates {(0.05,25.0)(0.1,24.3)(0.2,25.2)(0.3,24.8)(0.4,25.2)(0.5,25.5)(0.65,25.7)(0.8,25.8)(0.95,25.8)(1.1,25.85)(1.25,26.0)(1.4,26.15)(1.55,26.4)(1.7,26.7)(1.85,27.0)(2.0,27.5)(2.1,27.8)(2.2,28.05)(2.3,28.5)(2.4,28.9)(2.5,29.1)(2.6,29.3)(2.7,29.85)(2.8,30.2)(2.9,30.4)(3.0,30.45)(3.1,30.45)(3.2,30.4)(3.3,30.35)(3.4,30.5)(3.5,30.7)(3.6,30.8)(3.7,31.0)(3.8,30.85)(3.9,30.7)(4.0,30.6)(4.1,30.55)(4.25,30.6)(4.4,30.6)(4.55,30.6)(4.7,30.7)(4.85,30.55)(5.0,30.4)(5.15,30.6)(5.3,30.8)(5.4,31.2)(5.5,31.5)(5.65,31.35)(5.8,31.2)(5.95,31.05)(6.1,30.9)(6.25,31.3)(6.4,31.7)(6.55,31.95)(6.7,32.15)(6.85,32.35)(7.0,32.5)(7.15,32.7)(7.3,32.9)(7.4,32.85)(7.5,32.7)(7.65,32.4)(7.8,32.15)(7.95,32.1)(8.1,32.05)(8.25,31.8)(8.4,31.6)(8.55,31.45)(8.7,31.3)(8.85,31.1)(9.0,30.9)(9.15,30.65)(9.3,30.45)(9.45,30.3)(9.6,30.15)(9.75,29.95)(9.9,29.75)(10.05,29.75)(10.2,29.7)(10.35,29.45)(10.5,29.2)(10.65,29.05)(10.8,28.9)(10.95,28.7)(11.1,28.45)(11.25,28.15)(11.4,27.85)(11.55,27.6)(11.7,27.4)(11.8,27.45)(11.9,27.5)(12.05,27.2)(12.2,26.9)(12.35,26.95)(12.5,27.0)(12.65,27.05)(12.8,27.15)(12.95,27.5)(13.1,27.85)(13.25,28.05)(13.4,28.25)(13.5,28.5)(13.6,28.8)(13.7,29.0)(13.75,29.1)(13.8,28.95)(13.9,29.05)};
\end{axis}
\pgfresetboundingbox
\useasboundingbox (0,0) rectangle (1064*0.75pt,662*0.75pt);
\end{tikzpicture}
\end{document}
